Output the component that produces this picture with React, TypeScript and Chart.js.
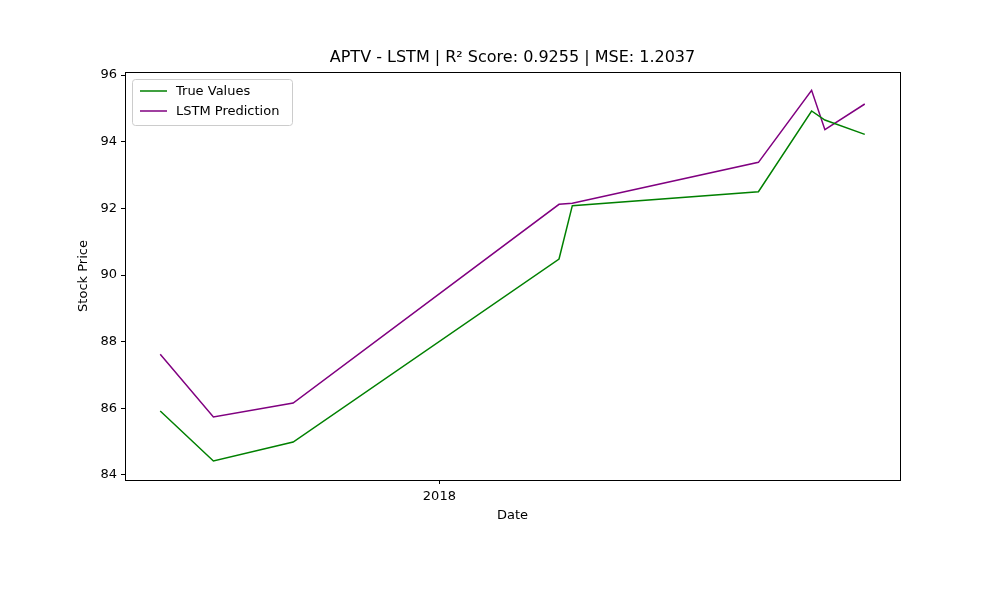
import { useRef, useEffect } from "react";
import { Chart, registerables } from "chart.js";

Chart.register(...registerables);

// days relative to 2018-01-01
const dayOffsets = [-21, -17, -11, 9, 10, 24, 28, 29, 32];
const trueValues = [85.92, 84.42, 84.99, 90.48, 92.08, 92.5, 94.92, 94.65, 94.22];
const lstmValues = [87.62, 85.74, 86.16, 92.12, 92.15, 93.38, 95.54, 94.36, 95.13];
const yTicks = [84, 86, 88, 90, 92, 94, 96];

const FONT = "'DejaVu Sans', sans-serif";

const decor = {
  id: "decor",
  afterDraw(chart: Chart) {
    const { ctx, chartArea: a } = chart;
    ctx.save();
    ctx.strokeStyle = "#000";
    ctx.lineWidth = 1;
    ctx.strokeRect(Math.round(a.left) + 0.5, Math.round(a.top) + 0.5, Math.round(a.right - a.left), Math.round(a.bottom - a.top));
    ctx.fillStyle = "#000";
    ctx.textAlign = "center";
    ctx.textBaseline = "middle";
    ctx.font = `16px ${FONT}`;
    ctx.fillText("APTV - LSTM | R² Score: 0.9255 | MSE: 1.2037", (a.left + a.right) / 2, 58);
    ctx.font = `13px ${FONT}`;
    ctx.fillText("Date", (a.left + a.right) / 2, 516);
    ctx.translate(84, (a.top + a.bottom) / 2);
    ctx.rotate(-Math.PI / 2);
    ctx.fillText("Stock Price", 0, 0);
    ctx.restore();

    // legend
    ctx.save();
    const x = a.left + 7, y = a.top + 7;
    ctx.fillStyle = "rgba(255,255,255,0.8)";
    ctx.strokeStyle = "#ccc";
    ctx.lineWidth = 1;
    ctx.beginPath();
    ctx.roundRect(x + 0.5, y + 0.5, 160, 46, 3);
    ctx.fill();
    ctx.stroke();
    const items: [string, string][] = [["True Values", "green"], ["LSTM Prediction", "purple"]];
    ctx.font = `13px ${FONT}`;
    ctx.textBaseline = "middle";
    items.forEach(([label, color], i) => {
      const ly = y + 12 + i * 20;
      ctx.strokeStyle = color;
      ctx.lineWidth = 1.5;
      ctx.beginPath();
      ctx.moveTo(x + 8, ly);
      ctx.lineTo(x + 35, ly);
      ctx.stroke();
      ctx.fillStyle = "#000";
      ctx.fillText(label, x + 44, ly + 1);
    });
    ctx.restore();
  },
};

export default function App() {
  const ref = useRef<HTMLCanvasElement | null>(null);

  useEffect(() => {
    document.body.style.margin = "0";
    const ctx = ref.current?.getContext("2d");
    if (!ctx) return;
    const chart = new Chart(ctx, {
      type: "line",
      data: {
        datasets: [
          {
            label: "True Values",
            data: dayOffsets.map((d, i) => ({ x: d, y: trueValues[i] })),
            borderColor: "green",
            borderWidth: 1.5,
            pointRadius: 0,
            tension: 0,
          },
          {
            label: "LSTM Prediction",
            data: dayOffsets.map((d, i) => ({ x: d, y: lstmValues[i] })),
            borderColor: "purple",
            borderWidth: 1.5,
            pointRadius: 0,
            tension: 0,
          },
        ],
      },
      options: {
        animation: false,
        responsive: false,
        layout: { padding: { top: 72, right: 100, left: 0, bottom: 0 } },
        plugins: { legend: { display: false }, title: { display: false }, tooltip: { enabled: false } },
        scales: {
          x: {
            type: "linear",
            min: -23.65,
            max: 34.65,
            afterFit: (s: any) => { s.height = 120; },
            afterBuildTicks: (s: any) => { s.ticks = [{ value: 0 }]; },
            ticks: { callback: () => "2018", color: "#000", font: { family: FONT, size: 13 }, maxRotation: 0, padding: 5 },
            grid: { drawOnChartArea: false, tickLength: 4, color: "#000" },
            border: { color: "#000" },
          },
          y: {
            min: 83.85,
            max: 96.09,
            afterFit: (s: any) => { s.width = 125; },
            afterBuildTicks: (s: any) => { s.ticks = yTicks.map((v) => ({ value: v })); },
            ticks: { color: "#000", font: { family: FONT, size: 13 }, padding: 4 },
            grid: { drawOnChartArea: false, tickLength: 4, color: "#000" },
            border: { color: "#000" },
          },
        },
      },
      plugins: [decor],
    });
    return () => chart.destroy();
  }, []);

  return (
    <div style={{ width: 1000, height: 600, background: "#fff" }}>
      <canvas ref={ref} width={1000} height={600} />
    </div>
  );
}
